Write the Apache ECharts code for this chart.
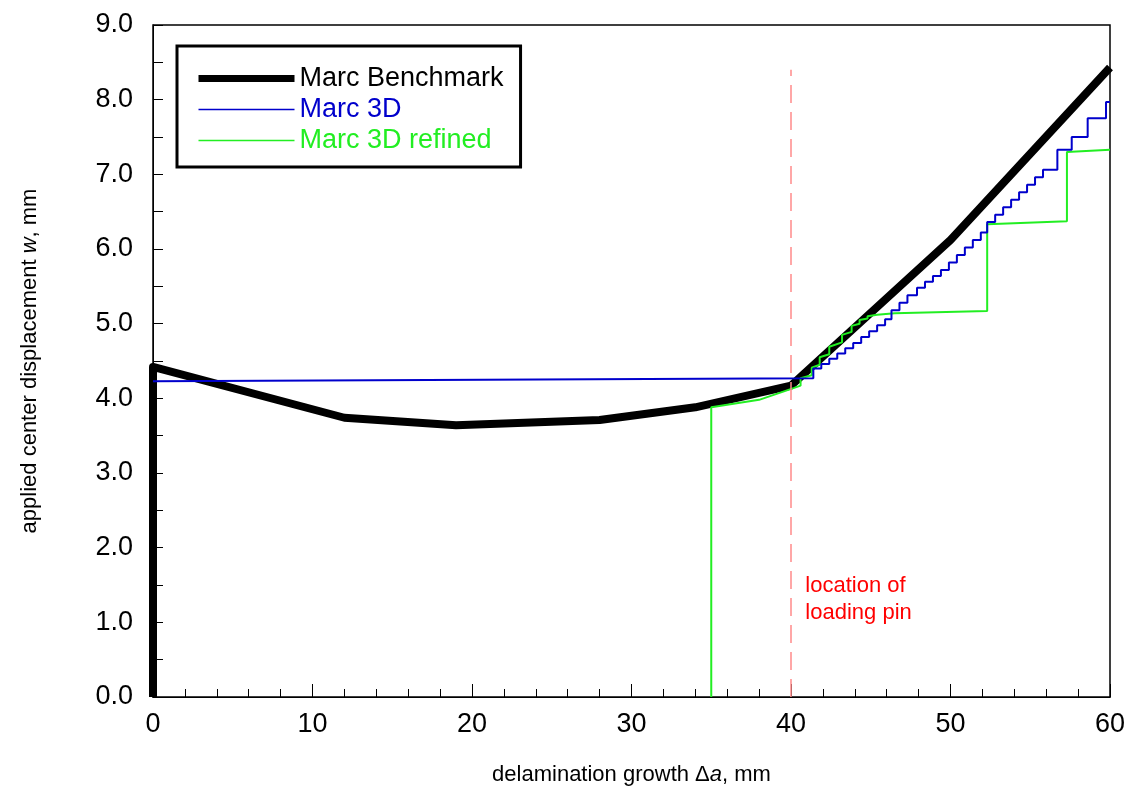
<!DOCTYPE html>
<html>
<head>
<meta charset="utf-8">
<script src="https://cdn.jsdelivr.net/npm/echarts@6/dist/echarts.min.js"></script>
<style>
  html, body { margin: 0; padding: 0; background: #fff; }
  #chart { width: 1133px; height: 799px; }
</style>
</head>
<body>
<div id="chart"></div>
<script>
// values
const benchX = [0, 0, 12, 19, 28, 34, 40, 50, 60];
const benchY = [0, 4.42, 3.74, 3.64, 3.71, 3.88, 4.17, 6.12, 8.43];

// Marc 3D: flat part, then stair steps (x of step, level after step)
const blueFlatX = [0, 41.4];
const blueFlatY = [4.23, 4.27];
const blueStepX = [41.4, 41.9, 42.4, 42.9, 43.4, 43.9, 44.4, 44.9, 45.4, 45.9, 46.3, 46.8, 47.3, 47.9, 48.4, 48.9, 49.4, 49.9, 50.4, 50.9, 51.4, 51.9, 52.3, 52.8, 53.3, 53.8, 54.3, 54.8, 55.3, 55.8, 56.7, 57.6, 58.6, 59.75];
const blueStepY = [4.40, 4.46, 4.53, 4.60, 4.67, 4.74, 4.82, 4.90, 4.98, 5.06, 5.18, 5.28, 5.38, 5.48, 5.56, 5.64, 5.72, 5.82, 5.92, 6.02, 6.12, 6.22, 6.36, 6.46, 6.56, 6.66, 6.76, 6.86, 6.96, 7.06, 7.33, 7.50, 7.75, 7.97];
const blueEndX = 60;

const greenX = [35, 35, 38, 40.2, 40.6, 40.6, 41.3, 41.3, 41.8, 41.8, 42.4, 42.4, 43.2, 43.2, 43.8, 43.8, 44.3, 44.3, 44.8, 44.8, 45.4, 46.5, 52.3, 52.3, 57.3, 57.3, 60];
const greenY = [0, 3.88, 3.98, 4.14, 4.17, 4.27, 4.31, 4.41, 4.45, 4.55, 4.59, 4.69, 4.75, 4.85, 4.89, 4.97, 5.00, 5.05, 5.07, 5.10, 5.12, 5.14, 5.17, 6.33, 6.37, 7.30, 7.33];

const pinX = 40;
const pinTop = 8.4;
const pinText = ['location of', 'loading pin'];

const names = ['Marc Benchmark', 'Marc 3D', 'Marc 3D refined'];
const colors = ['#000000', '#0000cc', '#22ee22'];

const FONT = '"Liberation Sans", Arial, Helvetica, sans-serif';

const benchData = benchX.map((x, i) => [x, benchY[i]]);
const greenData = greenX.map((x, i) => [x, greenY[i]]);
const blueData = blueFlatX.map((x, i) => [x, blueFlatY[i]]);
let level = blueFlatY[blueFlatY.length - 1];
blueStepX.forEach((x, i) => {
  blueData.push([x, level]);
  level = blueStepY[i];
  blueData.push([x, level]);
});
blueData.push([blueEndX, level]);

const chart = echarts.init(document.getElementById('chart'));

const option = {
  animation: false,
  backgroundColor: '#fff',
  textStyle: { fontFamily: FONT },
  grid: {
    left: 153, right: 23, top: 25, bottom: 102,
    show: true, borderColor: '#000', borderWidth: 1.5
  },
  legend: {
    show: true,
    orient: 'vertical',
    left: 177, top: 46,
    padding: [19, 17, 13, 18],
    borderColor: '#000', borderWidth: 3,
    itemWidth: 96, itemHeight: 10, itemGap: 4,
    itemStyle: { opacity: 0 },
    textStyle: { fontSize: 27, fontFamily: FONT, color: '#000' },
    data: [
      { name: names[0], lineStyle: { width: 7 }, textStyle: { color: colors[0] } },
      { name: names[1], lineStyle: { width: 1.5 }, textStyle: { color: colors[1] } },
      { name: names[2], lineStyle: { width: 1.5 }, textStyle: { color: colors[2] } }
    ]
  },
  xAxis: {
    type: 'value', min: 0, max: 60, interval: 10,
    name: '{n|delamination growth Δ}{i|a}{n|, mm}',
    nameLocation: 'middle', nameGap: 67,
    nameTextStyle: {
      rich: {
        n: { fontSize: 22, color: '#000', fontFamily: FONT },
        i: { fontSize: 22, color: '#000', fontStyle: 'italic', fontFamily: FONT }
      }
    },
    axisLine: { lineStyle: { color: '#000', width: 1 } },
    axisTick: { inside: true, length: 13, lineStyle: { color: '#000' } },
    minorTick: { show: true, splitNumber: 5, length: 8, lineStyle: { color: '#000' } },
    splitLine: { show: false },
    axisLabel: { fontSize: 27, color: '#000', margin: 14, fontFamily: FONT }
  },
  yAxis: {
    type: 'value', min: 0, max: 9, interval: 1,
    name: '{n|applied center displacement }{i|w}{n|, mm}',
    nameLocation: 'middle', nameGap: 112, nameRotate: 90,
    nameTextStyle: {
      rich: {
        n: { fontSize: 22, color: '#000', fontFamily: FONT },
        i: { fontSize: 22, color: '#000', fontStyle: 'italic', fontFamily: FONT }
      }
    },
    axisLine: { show: true, lineStyle: { color: '#000', width: 1 } },
    axisTick: { inside: true, length: 10, lineStyle: { color: '#000' } },
    minorTick: { show: true, splitNumber: 2, length: 10, lineStyle: { color: '#000' } },
    splitLine: { show: false },
    axisLabel: {
      fontSize: 27, color: '#000', margin: 20, fontFamily: FONT,
      formatter: v => v.toFixed(1)
    }
  },
  series: [
    {
      name: names[0], type: 'line', data: benchData, symbol: 'none', z: 2,
      lineStyle: { color: colors[0], width: 8, join: 'round', cap: 'butt' },
      itemStyle: { color: colors[0] }
    },
    {
      name: names[1], type: 'line', data: blueData, symbol: 'none', z: 4,
      lineStyle: { color: colors[1], width: 2 }, itemStyle: { color: colors[1] },
      markLine: {
        silent: true, symbol: 'none',
        lineStyle: { color: '#ff8a8a', width: 1.5, type: [18, 9] },
        label: { show: false },
        data: [[{ coord: [pinX, 0] }, { coord: [pinX, pinTop] }]]
      }
    },
    {
      name: names[2], type: 'line', data: greenData, symbol: 'none', z: 3,
      lineStyle: { color: colors[2], width: 2 }, itemStyle: { color: colors[2] }
    }
  ]
};

chart.setOption(option);

const p = chart.convertToPixel({ xAxisIndex: 0, yAxisIndex: 0 }, [pinX + 0.9, 1.67]);
chart.setOption({
  graphic: [{
    type: 'text', left: p[0], top: p[1], z: 10,
    style: {
      text: pinText.join('\n'), fill: '#ff0000', fontSize: 22,
      lineHeight: 27, fontFamily: FONT
    }
  }]
});
</script>
</body>
</html>
